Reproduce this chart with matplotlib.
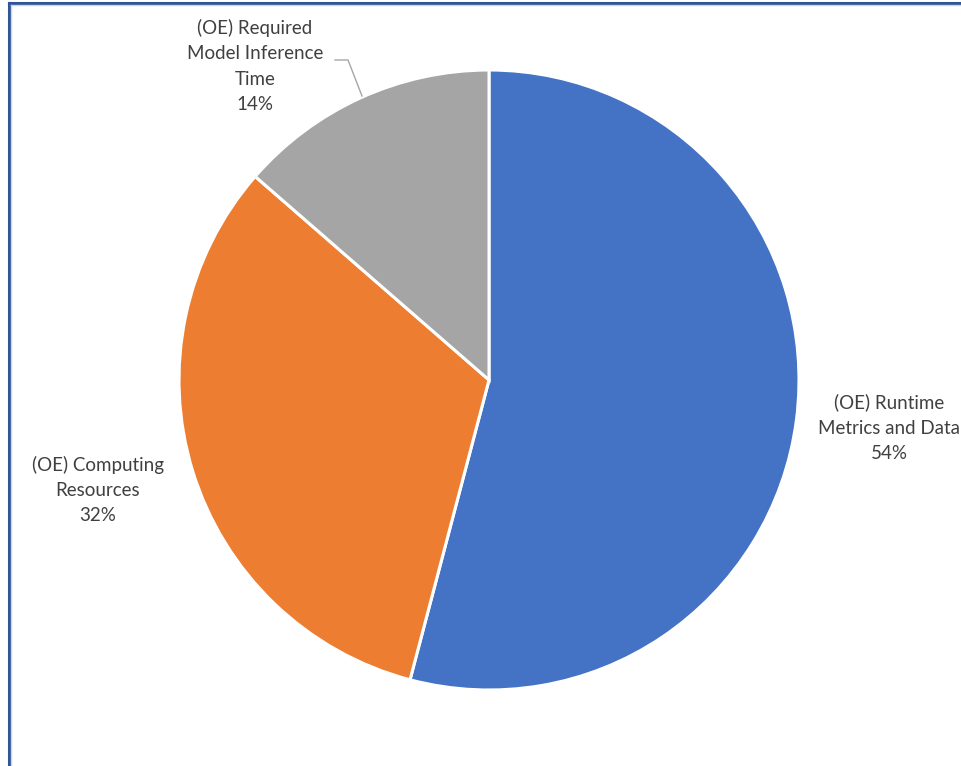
import matplotlib
matplotlib.use('Agg')
import matplotlib.pyplot as plt
from matplotlib.lines import Line2D

# chart data
categories = ['(OE) Runtime\nMetrics and Data', '(OE) Computing\nResources',
              '(OE) Required\nModel Inference\nTime']
shares = [54.1, 32.3, 13.6]
colors = ['#4472C4', '#ED7D31', '#A5A5A5']

W, H = 961, 766
fig = plt.figure(figsize=(W / 100, H / 100), dpi=100)
ax = fig.add_axes([0, 0, 1, 1])

cx, cy, r = 489, H - 380, 310
ax.pie(shares, colors=colors, startangle=90, counterclock=False,
       center=(cx, cy), radius=r, frame=True,
       wedgeprops=dict(edgecolor='white', linewidth=2.2))
ax.set_xlim(0, W)
ax.set_ylim(0, H)
ax.set_aspect('equal')
ax.axis('off')

txt = dict(fontsize=13.5, color='#404040', family=['Lato', 'DejaVu Sans'],
           ha='center', va='center', linespacing=1.6)
label_pos = [(889, 428), (98, 490), (255, 66)]
for name, val, (x, y) in zip(categories, shares, label_pos):
    ax.text(x, H - y, f'{name}\n{round(val)}%', **txt)

# leader line for the small slice
ax.plot([335, 348, 362], [H - 60, H - 60, H - 96], color='#A6A6A6', lw=1)

# frame border (top and left only, picture is cropped)
fig.add_artist(Line2D([9 / W, 1], [1 - 3 / H, 1 - 3 / H], color='#2F5597', lw=2.2))
fig.add_artist(Line2D([9 / W, 9 / W], [0, 1 - 3 / H], color='#2F5597', lw=2.2))
fig.add_artist(Line2D([11 / W, 1], [1 - 5 / H, 1 - 5 / H], color='#C9D3E3', lw=1))
fig.add_artist(Line2D([11 / W, 11 / W], [0, 1 - 5 / H], color='#C9D3E3', lw=1))

fig.savefig('out.png', dpi=100, facecolor='white')
